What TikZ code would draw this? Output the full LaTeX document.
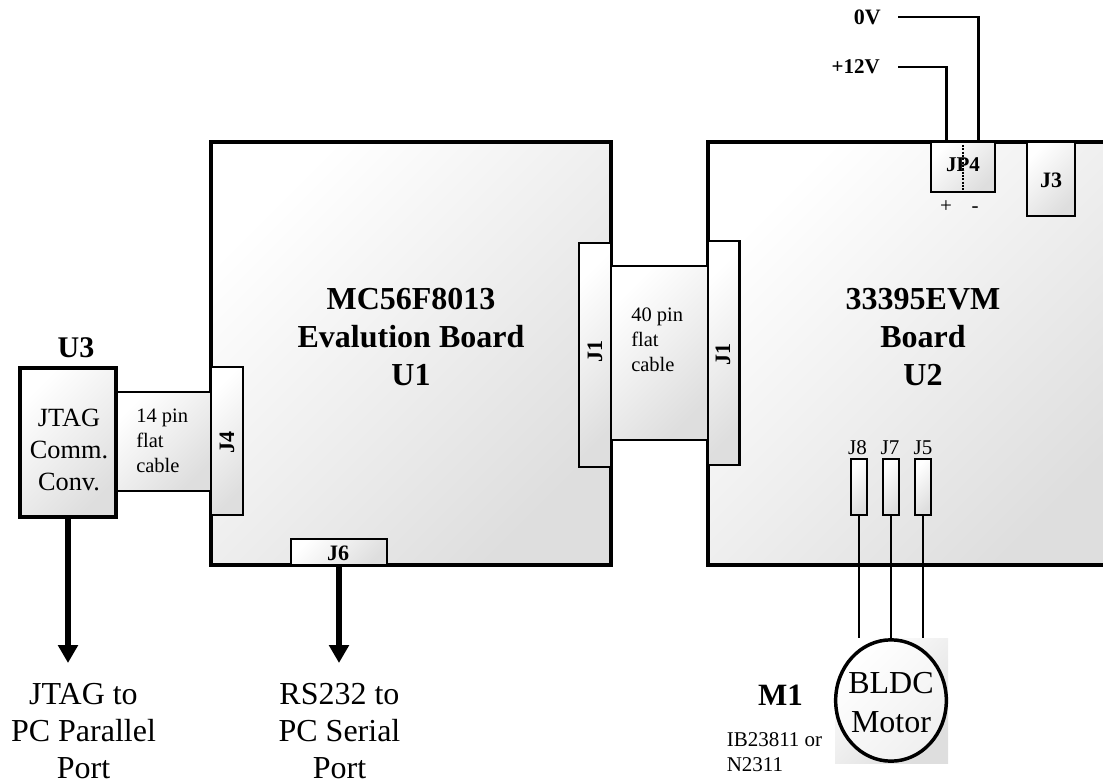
\documentclass[tikz,border=0pt]{standalone}
\usepackage{fontspec}
\setmainfont{Liberation Serif}
\usetikzlibrary{arrows.meta,shapes.geometric}
\newcommand{\pxf}[2]{\fontsize{\dimexpr #1pt*3/4\relax}{\dimexpr #2pt*3/4\relax}\selectfont}
\tikzset{
  x=0.75pt,y=-0.75pt,
  grad/.style={top color=white,bottom color=black!13,shading angle=45},
  box/.style={grad,draw=black,inner sep=0pt,outer sep=0pt,line join=miter},
  board/.style={box,line width=2.7pt},
  conv/.style={box,line width=3pt},
  conn/.style={box,line width=1.6pt},
  cablebox/.style={box,line width=1.4pt},
  wire/.style={draw=black,line width=1.6pt},
  thick arrow/.style={draw=black,line width=5.2pt,-{Triangle[width=14.5pt,length=13.5pt]}},
  boardtitle/.style={font=\bfseries\pxf{32}{38},align=center,inner sep=0pt},
  big/.style={font=\pxf{32}{37},align=center,inner sep=0pt},
  small/.style={font=\pxf{20.5}{25},align=left,inner sep=0pt},
  connlabel/.style={font=\bfseries\pxf{22}{24},inner sep=0pt},
  pinlabel/.style={font=\pxf{21}{24},inner sep=0pt,anchor=base}
}
\newcommand{\bx}[7][]{%
  \pgfmathsetmacro{\bw}{(#6-#4)*0.75}%
  \pgfmathsetmacro{\bh}{(#7-#5)*0.75}%
  \pgfmathsetmacro{\cxx}{(#4+#6)/2}%
  \pgfmathsetmacro{\cyy}{(#5+#7)/2}%
  \node[#2,#1,anchor=center,minimum width=\bw pt,minimum height=\bh pt] (#3) at (\cxx,\cyy) {};%
}
\begin{document}
\begin{tikzpicture}
\useasboundingbox (0,0) rectangle (1103,780);
\begin{scope}
\clip (0,0) rectangle (1103,780);
% boards
\bx{board}{u1}{211}{142}{611}{565}
\bx{board}{u2}{708}{142}{1125}{565}
% cables
\bx{cablebox}{cableA}{116}{392}{211}{491}
\bx{cablebox}{cableB}{611}{266}{708}{440}
% converter
\bx{conv}{u3}{20}{368}{116}{517}
% connectors
\bx{conn}{j4}{211}{367}{243}{515}
\bx{conn}{j6}{291}{539}{387}{565}
\bx{conn}{j1a}{579}{243}{611}{467}
\bx{conn}{j1b}{708}{241}{739.5}{465}
\bx{conn}{jp4}{931}{142}{995}{192}
\bx{conn}{j3}{1027}{142}{1075}{216}
\bx{conn}{j8}{851}{459}{867}{515}
\bx{conn}{j7}{883}{459}{899}{515}
\bx{conn}{j5}{915}{459}{931}{515}
% motor
\bx[draw=none]{box}{motorbg}{835}{638}{948}{763}
\node[draw=black,line width=2.6pt,top color=white,bottom color=black!6,shading angle=45,ellipse,inner sep=0pt,outer sep=0pt,minimum width=83pt,minimum height=91pt] (motor) at (891,700.5) {};
% board labels
\node[boardtitle] (t1) at (411,337.5) {MC56F8013\\Evalution Board\\U1};
\node[boardtitle] (t2) at (923,337.5) {33395EVM\\Board\\U2};
\node[font=\bfseries\pxf{30}{36},inner sep=0pt] (t3) at (76,347.5) {U3};
\node[font=\pxf{26.3}{32},align=center,inner sep=0pt] (t4) at (69,450) {JTAG\\Comm.\\Conv.};
\node[small,anchor=north west] (t5) at (136,409) {14 pin\\flat\\cable};
\node[small,anchor=north west] (t6) at (631,308) {40 pin\\flat\\cable};
\node[connlabel,rotate=90] (t7) at (227,442) {J4};
\node[connlabel] (t8) at (338,553) {J6};
\node[connlabel,rotate=90] (t9) at (595,352) {J1};
\node[connlabel,rotate=90] (t10) at (723,355) {J1};
\node[connlabel,font=\bfseries\pxf{21}{24}] (t11) at (963,165) {JP4};
\node[connlabel] (t12) at (1051,180) {J3};
\node[pinlabel] (t13) at (946,213) {+};
\node[pinlabel] (t14) at (975,213) {-};
\node[pinlabel] (t15) at (857.5,455) {J8};
\node[pinlabel] (t16) at (890,455) {J7};
\node[pinlabel] (t17) at (923,455) {J5};
\node[connlabel,anchor=east] (t18) at (881,17) {0V};
\node[connlabel,font=\bfseries\pxf{21}{24},anchor=east] (t19) at (880,67) {+12V};
\node[big,font=\pxf{32}{39}] (t20) at (891,703) {BLDC\\Motor};
\node[font=\bfseries\pxf{31}{36},inner sep=0pt] (t21) at (780.5,695) {M1};
\node[font=\pxf{21}{25},align=left,inner sep=0pt,anchor=north west] (t22) at (726.5,732) {IB23811 or\\N2311};
\node[big,anchor=north] (t23) at (83.5,683.4) {JTAG to\\PC Parallel\\Port};
\node[big,anchor=north] (t24) at (339.5,683.4) {RS232 to\\PC Serial\\Port};
% connectors
\coordinate (w0) at (898,17);
\coordinate (w1) at (898,67);
\coordinate (w0e) at (978.5,142);
\coordinate (w1e) at (946.5,142);
\draw[wire] (w0) -| (w0e);
\draw[wire] (w1) -| (w1e);
\draw[black,line width=2pt,dash pattern=on 1.5pt off 1pt] (963,145) -- (963,193);
\coordinate (m1) at (859,638);
\coordinate (m3) at (923,638);
\draw[wire] (j8.south) -- (m1);
\draw[wire] (j7.south) -- (motor.north);
\draw[wire] (j5.south) -- (m3);
\coordinate (a1) at (68,663);
\coordinate (a2) at (339,663);
\draw[thick arrow] (u3.south) -- (a1);
\draw[thick arrow] (j6.south) -- (a2);
\end{scope}
\end{tikzpicture}
\end{document}
